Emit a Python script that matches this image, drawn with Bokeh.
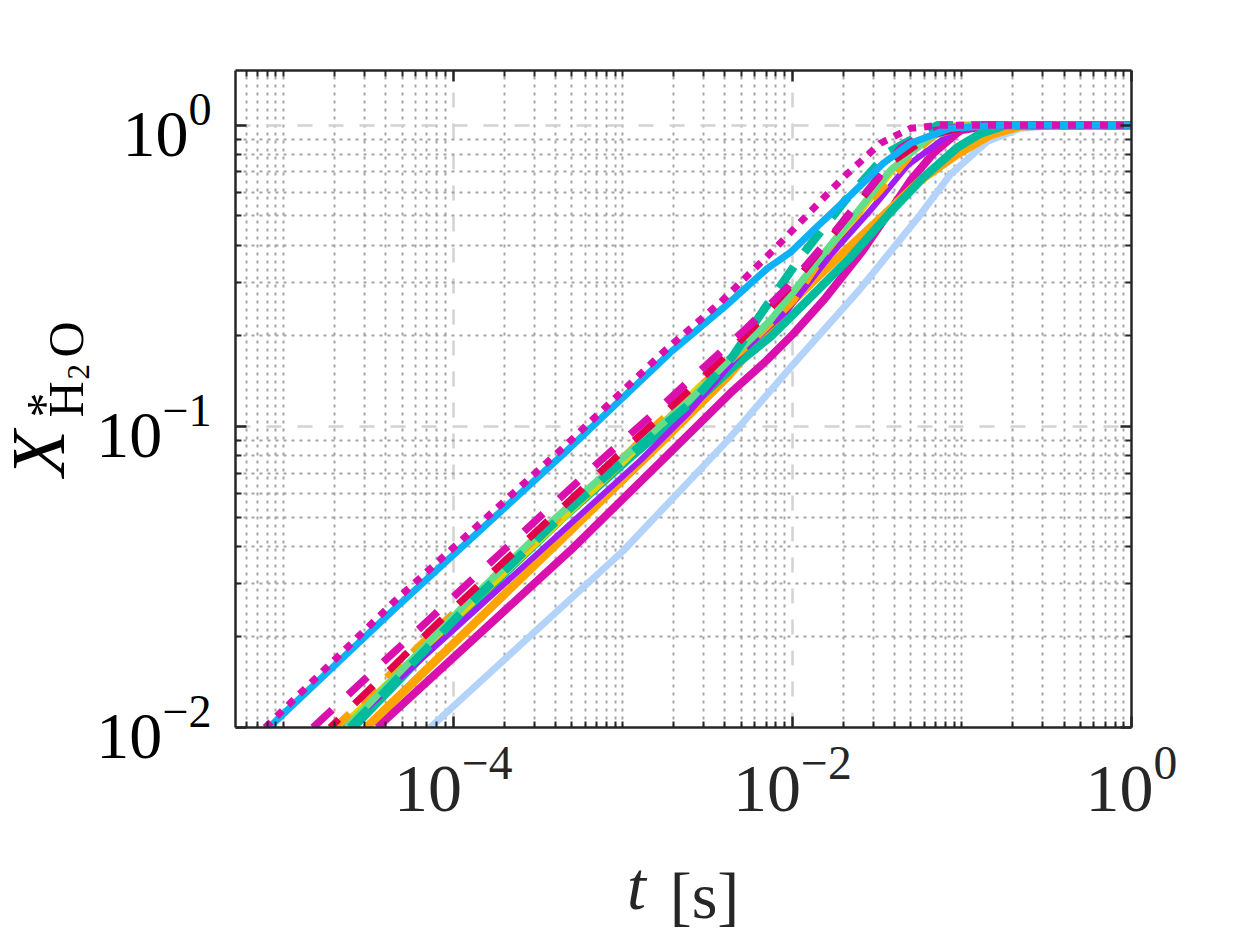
import math
from bokeh.plotting import figure
from bokeh.layouts import row
from bokeh.models import Range1d, LogAxis, FixedTicker, LogTickFormatter, CustomJSTickFormatter, Label
from bokeh.embed import file_html
from bokeh.resources import INLINE

# ---------------- data ----------------
t_mag_dot = [7.78e-6, 4.55e-5, 4.46e-4, 1.78e-3, 3.76e-3, 7.73e-3, 2.00e-2, 3.30e-2, 4.97e-2, 7.46e-2, 1.0]
X_mag_dot = [0.0100, 0.0264, 0.0851, 0.179, 0.258, 0.385, 0.671, 0.871, 0.977, 1.0, 1.0]
t_sky = [8.20e-6, 4.87e-5, 4.78e-4, 1.91e-3, 4.03e-3, 7.13e-3, 9.73e-3, 1.368e-2, 2.198e-2, 3.44e-2, 4.97e-2, 8.55e-2, 0.169, 1.0]
X_sky = [0.0100, 0.0258, 0.0839, 0.176, 0.251, 0.335, 0.378, 0.455, 0.585, 0.748, 0.871, 0.977, 1.0, 1.0]
t_mag_dash = [1.49e-5, 1.10e-4, 7.08e-4, 1.51e-3, 2.86e-3, 5.43e-3, 9.35e-3, 1.675e-2, 2.88e-2, 4.34e-2, 6.52e-2, 0.112, 1.0]
X_mag_dash = [0.0100, 0.0285, 0.0753, 0.110, 0.153, 0.213, 0.290, 0.425, 0.622, 0.84, 0.955, 1.0, 1.0]
t_red_dash = [1.88e-5, 8.38e-5, 9.66e-4, 1.83e-3, 3.15e-3, 5.89e-3, 1.114e-2, 2.198e-2, 3.78e-2, 6.52e-2, 0.120, 1.0]
X_red_dash = [0.0100, 0.0226, 0.0813, 0.113, 0.150, 0.213, 0.318, 0.510, 0.748, 0.927, 1.0, 1.0]
t_lgreen = [2.34e-5, 1.19e-4, 4.05e-4, 1.01e-3, 2.47e-3, 4.25e-3, 7.41e-3, 1.276e-2, 2.198e-2, 3.78e-2, 6.52e-2, 0.112, 1.0]
X_lgreen = [0.0100, 0.0258, 0.0499, 0.0789, 0.122, 0.166, 0.225, 0.330, 0.483, 0.708, 0.919, 1.0, 1.0]
t_teal_dash = [2.47e-5, 1.26e-4, 4.28e-4, 1.06e-3, 2.61e-3, 4.49e-3, 6.75e-3, 1.114e-2, 2.056e-2, 3.68e-2, 7.18e-2, 1.0]
X_teal_dash = [0.0100, 0.0258, 0.0499, 0.0789, 0.122, 0.172, 0.243, 0.364, 0.564, 0.813, 1.0, 1.0]
t_teal = [2.57e-5, 1.31e-4, 4.28e-4, 1.06e-3, 2.61e-3, 4.49e-3, 7.41e-3, 1.276e-2, 2.198e-2, 3.78e-2, 5.93e-2, 9.42e-2, 0.129, 0.181, 1.0]
X_teal = [0.0100, 0.0258, 0.0488, 0.0771, 0.119, 0.158, 0.198, 0.268, 0.364, 0.514, 0.671, 0.845, 0.940, 1.0, 1.0]
t_orange_dash = [2.01e-5, 8.38e-5, 7.67e-4, 1.60e-3, 2.99e-3, 5.65e-3, 1.014e-2, 1.524e-2, 2.198e-2, 3.18e-2, 4.97e-2, 7.46e-2, 9.8e-2, 1.0]
X_orange_dash = [0.0100, 0.0218, 0.0676, 0.102, 0.139, 0.189, 0.262, 0.370, 0.483, 0.594, 0.794, 0.962, 1.0, 1.0]
t_purple = [2.31e-5, 9.22e-5, 1.27e-3, 2.40e-3, 4.93e-3, 9.35e-3, 1.675e-2, 2.88e-2, 4.78e-2, 9.8e-2, 1.0]
X_purple = [0.0100, 0.0202, 0.0771, 0.110, 0.175, 0.243, 0.370, 0.521, 0.736, 0.993, 1.0]
t_yellow = [2.15e-5, 8.97e-5, 9.66e-4, 2.86e-3, 9.73e-3, 2.198e-2, 4.34e-2, 8.55e-2, 1.0]
X_yellow = [0.0100, 0.0213, 0.0741, 0.137, 0.252, 0.466, 0.766, 1.0, 1.0]
t_orange = [3.07e-5, 1.26e-4, 4.28e-4, 1.66e-3, 4.14e-3, 1.014e-2, 1.919e-2, 3.30e-2, 5.69e-2, 9.16e-2, 0.147, 0.221, 0.333, 1.0]
X_orange = [0.0100, 0.0215, 0.0418, 0.0877, 0.146, 0.262, 0.370, 0.491, 0.656, 0.794, 0.927, 0.993, 1.0, 1.0]
t_mag = [3.56e-5, 4.90e-4, 1.66e-3, 4.31e-3, 7.0e-3, 1.014e-2, 1.524e-2, 2.62e-2, 3.78e-2, 4.97e-2, 6.79e-2, 9.8e-2, 0.147, 1.0]
X_mag = [0.0100, 0.0387, 0.0759, 0.129, 0.165, 0.203, 0.262, 0.385, 0.521, 0.656, 0.807, 0.962, 1.0, 1.0]
t_lblue = [7.31e-5, 1.01e-3, 2.18e-3, 4.14e-3, 1.014e-2, 2.42e-2, 5.47e-2, 8.55e-2, 0.142, 0.221, 0.381, 1.0]
X_lblue = [0.0100, 0.0387, 0.0612, 0.0897, 0.161, 0.279, 0.491, 0.687, 0.885, 0.977, 1.0, 1.0]

x_major = [1e-4, 1e-2, 1.0]
y_major = [1e-2, 1e-1, 1.0]
x_title = ("t", "[s]")
y_title = ("X", "*", "H", "2", "O")

X_MIN, X_MAX = 5.2e-6, 1.0
Y_MIN, Y_MAX = 0.01, 1.52

# ---------------- page layout (pixels) ----------------
PAGE_W, PAGE_H = 1248, 936
TITLE_W = 92                          # strip on the left holding the rotated y title
FL, FR, FT, FB = 235, 1131, 70, 727   # frame edges on the page
FONT = "Liberation Serif"
A_EM = 0.80
MID_EM = 0.3375                       # distance from the text's middle line to its baseline (em)

LX0, LX1 = math.log10(X_MIN), math.log10(X_MAX)
DX = (FR - FL) / (LX1 - LX0)


def t_at(px):
    return 10 ** (LX0 + (px - FL) / DX)


x_minor = [k * 10.0 ** n for n in range(-6, 1) for k in range(1, 10)
           if X_MIN <= k * 10.0 ** n <= X_MAX and not any(abs(k * 10.0 ** n / m - 1) < 1e-9 for m in x_major)]
y_minor = [k * 10.0 ** n for n in range(-2, 1) for k in range(1, 10)
           if Y_MIN <= k * 10.0 ** n <= Y_MAX and not any(abs(k * 10.0 ** n / m - 1) < 1e-9 for m in y_major)]
x_ticker = FixedTicker(ticks=x_major, minor_ticks=x_minor)
y_ticker = FixedTicker(ticks=y_major, minor_ticks=y_minor)

PW = PAGE_W - TITLE_W
p = figure(width=PW, height=PAGE_H, x_axis_type="log", y_axis_type="log",
           x_range=Range1d(X_MIN, X_MAX), y_range=Range1d(Y_MIN, Y_MAX),
           output_backend="svg", toolbar_location=None,
           min_border_left=FL - TITLE_W, min_border_right=PW - (FR - TITLE_W),
           min_border_top=FT, min_border_bottom=PAGE_H - FB)
p.outline_line_color = None
p.background_fill_color = "white"
p.border_fill_color = "white"


def style_frame_axis(ax, ticker):
    ax.ticker = ticker
    ax.axis_line_color = "#262626"
    ax.axis_line_width = 2.5
    ax.major_tick_line_color = "#262626"
    ax.minor_tick_line_color = "#262626"
    ax.major_tick_line_width = 2.5
    ax.minor_tick_line_width = 2
    ax.major_tick_in = 11
    ax.major_tick_out = 0
    ax.minor_tick_in = 6
    ax.minor_tick_out = 0


bottom_ax, left_ax = p.xaxis[0], p.yaxis[0]
style_frame_axis(bottom_ax, x_ticker)
style_frame_axis(left_ax, y_ticker)
for ax, size, color, standoff in ((bottom_ax, 68, "#262626", 20), (left_ax, 66, "#000000", 24)):
    ax.formatter = LogTickFormatter()
    ax.major_label_text_font = FONT
    ax.major_label_text_font_size = f"{size}px"
    ax.major_label_text_color = color
    ax.major_label_standoff = standoff

top_ax, right_ax = LogAxis(), LogAxis()
for ax, tk in ((top_ax, x_ticker), (right_ax, y_ticker)):
    style_frame_axis(ax, tk)
    ax.major_label_text_color = None
p.add_layout(top_ax, "above")
p.add_layout(right_ax, "right")


def text_axis(ticks, labels, size, standoff, style="normal"):
    ax = LogAxis(ticker=FixedTicker(ticks=ticks, minor_ticks=[]),
                 formatter=CustomJSTickFormatter(args=dict(labels=labels), code="return labels[index];"))
    ax.axis_line_color = None
    ax.major_tick_line_color = None
    ax.minor_tick_line_color = None
    ax.major_tick_in = 0
    ax.major_tick_out = 0
    ax.minor_tick_in = 0
    ax.minor_tick_out = 0
    ax.major_label_standoff = int(round(standoff))
    ax.major_label_text_font = FONT
    ax.major_label_text_font_size = f"{size}px"
    ax.major_label_text_font_style = style
    ax.major_label_text_color = "#262626"
    p.add_layout(ax, "below")
    return ax


# ---- x title "t [s]" under the tick-label row ----
b_off = 20 + 96 - 19                  # depth taken by the tick-label row (calibrated)
d = 185 - A_EM * 68
text_axis([t_at(636)], [x_title[0]], 68, d - b_off, style="italic")
b_off = d + 1.02 * 68
d = 185 - A_EM * 66
text_axis([t_at(704)], [x_title[1]], 66, d - b_off)

for g, tk in ((p.xgrid[0], x_ticker), (p.ygrid[0], y_ticker)):
    g.ticker = tk
    g.grid_line_color = "#d2d2d2"
    g.grid_line_width = 2.5
    g.grid_line_dash = "15 16"
    g.minor_grid_line_color = "#a4a4a4"
    g.minor_grid_line_width = 2
    g.minor_grid_line_dash = "3 5"

# ---------------- curves ----------------
series = [
    (t_lblue, X_lblue, "#b3d3fa", 7, "solid", 0),
    (t_mag, X_mag, "#d910ad", 8, "solid", 0),
    (t_orange, X_orange, "#ffa400", 8.5, "solid", 0),
    (t_teal, X_teal, "#00bb9c", 8.5, "solid", 0),
    (t_yellow, X_yellow, "#e3d300", 6, "solid", 0),
    (t_purple, X_purple, "#a21ef0", 6, "solid", 0),
    (t_orange_dash, X_orange_dash, "#ffa400", 7.5, "20 16", 0),
    (t_lgreen, X_lgreen, "#63de8a", 7, "solid", 0),
    (t_teal_dash, X_teal_dash, "#00bb9c", 8.5, "26 18", 0),
    (t_red_dash, X_red_dash, "#e2004b", 7, "26 22", 14),
    (t_mag_dash, X_mag_dash, "#d910ad", 7.5, "26 22", 0),
    (t_sky, X_sky, "#0db1f5", 7, "solid", 0),
    (t_mag_dot, X_mag_dot, "#d910ad", 7, "8 8", 0),
]
for t, x, c, w, dsh, off in series:
    p.line(t, x, line_color=c, line_width=w, line_dash=dsh, line_dash_offset=off)

# ---------------- left strip with the rotated y title ----------------
# same top/bottom borders as the plot, so data units = page pixels (y negated)
ys = figure(width=TITLE_W, height=PAGE_H, x_range=Range1d(0, TITLE_W), y_range=Range1d(-FB, -FT),
            x_axis_location=None, y_axis_location=None,
            output_backend="svg", toolbar_location=None,
            min_border_left=0, min_border_right=0,
            min_border_top=FT, min_border_bottom=PAGE_H - FB)
ys.outline_line_color = None
ys.background_fill_color = "white"
ys.border_fill_color = "white"
ys.xgrid.visible = False
ys.ygrid.visible = False

# (text, baseline x on page, start y on page, size, style) -- reads bottom to top
y_pieces = [(y_title[0], 63, 476, 76, "italic"),
            (y_title[1], 60, 417, 50, "normal"),
            (y_title[2], 82, 417, 50, "normal"),
            (y_title[3], 88, 379, 31, "normal"),
            (y_title[4], 82, 357, 50, "normal")]
for txt, bx, by, size, style in y_pieces:
    ys.add_layout(Label(x=bx - MID_EM * size, y=-by, text=txt, angle=math.pi / 2,
                        text_align="left", text_baseline="middle",
                        text_font=FONT, text_font_style=style,
                        text_font_size=f"{size}px", text_color="#000000"))

layout = row(ys, p, spacing=0)
open("out.html", "w").write(file_html(layout, INLINE))
